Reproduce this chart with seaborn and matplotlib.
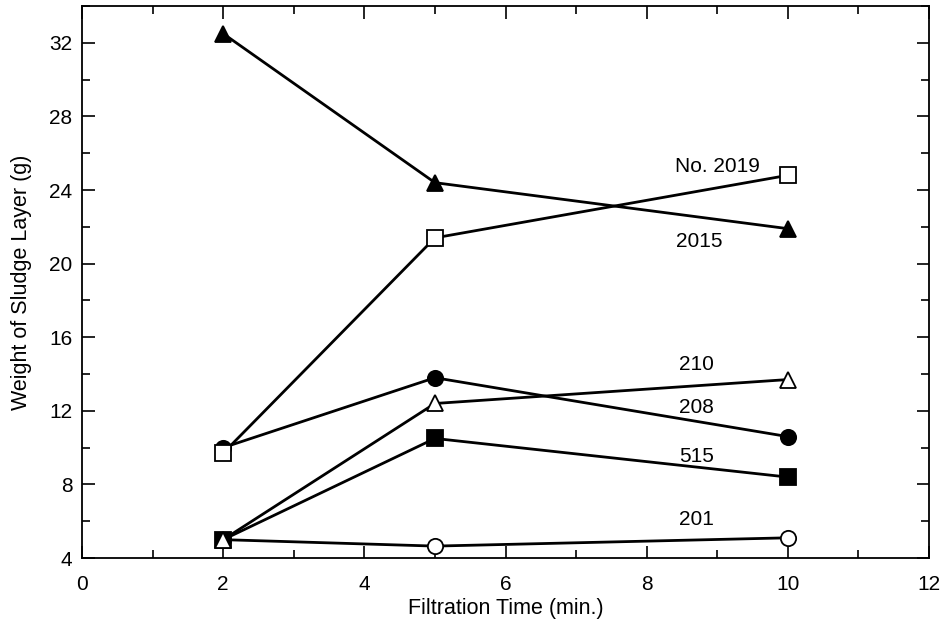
import numpy as np
import pandas as pd
import seaborn as sns
import matplotlib.pyplot as plt
from matplotlib.ticker import MultipleLocator

# filtration time (min.)
time = [2, 5, 10]

# weight of sludge layer (g)
w2019 = [9.7, 21.4, 24.8]
w2015 = [32.5, 24.4, 21.9]
w210 = [5.0, 12.4, 13.7]
w208 = [10.0, 13.8, 10.6]
w515 = [5.0, 10.5, 8.4]
w201 = [5.0, 4.65, 5.1]

# drawing order matters where markers overlap at t = 2
names = ['2015', '208', 'No. 2019', '201', '515', '210']
series = [w2015, w208, w2019, w201, w515, w210]

sns.set_style('ticks')
plt.rcParams['font.family'] = ['Liberation Sans', 'DejaVu Sans']
plt.rcParams['text.color'] = 'black'
plt.rcParams['axes.labelcolor'] = 'black'
plt.rcParams['xtick.color'] = 'black'
plt.rcParams['ytick.color'] = 'black'

fig = plt.figure(figsize=(9.48, 6.32), dpi=100)
ax = fig.add_axes([0.0865, 0.117, 0.8935, 0.8735])

styles = {
    'No. 2019': ('s', 'white'),
    '2015': ('^', 'black'),
    '210': ('^', 'white'),
    '208': ('o', 'black'),
    '515': ('s', 'black'),
    '201': ('o', 'white'),
}

for i, (name, vals) in enumerate(zip(names, series)):
    mk, fc = styles[name]
    df = pd.DataFrame({'t': time, 'w': vals})
    sns.lineplot(data=df, x='t', y='w', ax=ax, color='black', lw=2.0,
                 marker=mk, markersize=11, markerfacecolor=fc,
                 markeredgecolor='black', markeredgewidth=1.3, zorder=3 + i)

# series labels
fs = 15
ax.text(9.0, 25.3, 'No. 2019', fontsize=fs, ha='center', va='center')
ax.text(8.75, 21.2, '2015', fontsize=fs, ha='center', va='center')
ax.text(8.7, 14.5, '210', fontsize=fs, ha='center', va='center')
ax.text(8.7, 12.2, '208', fontsize=fs, ha='center', va='center')
ax.text(8.7, 9.5, '515', fontsize=fs, ha='center', va='center')
ax.text(8.7, 6.1, '201', fontsize=fs, ha='center', va='center')

ax.set_xlim(0, 12)
ax.set_ylim(4, 34)
ax.xaxis.set_major_locator(MultipleLocator(2))
ax.xaxis.set_minor_locator(MultipleLocator(1))
ax.yaxis.set_major_locator(MultipleLocator(4))
ax.yaxis.set_minor_locator(MultipleLocator(2))
ax.tick_params(which='both', direction='in', top=True, right=True,
               labelsize=fs, width=1.2, color='black', pad=7)
ax.tick_params(axis='x', which='both', pad=12)
ax.tick_params(which='major', length=9)
ax.tick_params(which='minor', length=6)
for s in ax.spines.values():
    s.set_linewidth(1.3)
    s.set_color('black')

ax.set_xlabel('Filtration Time (min.)', fontsize=15.5, labelpad=3)
ax.set_ylabel('Weight of Sludge Layer (g)', fontsize=15.5, labelpad=12)

fig.savefig('out.png', dpi=100)
